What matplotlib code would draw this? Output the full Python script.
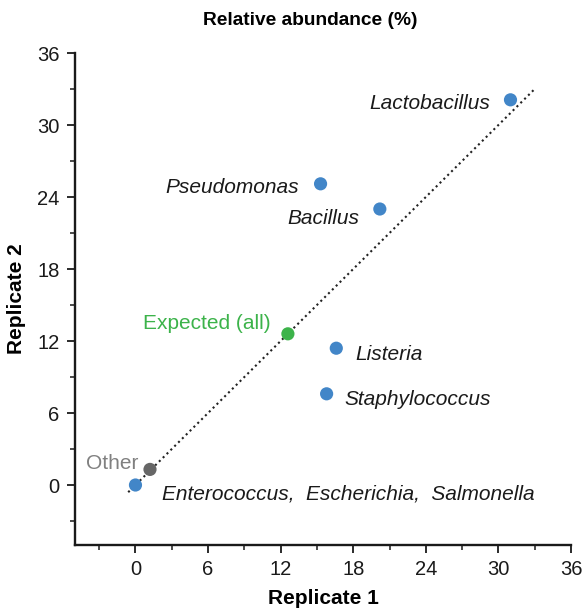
import numpy as np
import matplotlib.pyplot as plt
from matplotlib.ticker import MultipleLocator

plt.rcParams['font.family'] = ['Liberation Sans', 'DejaVu Sans']

# relative abundance (%) per genus, two replicates
names = ['Lactobacillus', 'Pseudomonas', 'Bacillus', 'Listeria', 'Staphylococcus',
         'Enterococcus,  Escherichia,  Salmonella']
rep1 = [31.0, 15.3, 20.2, 16.6, 15.8, 0.0]
rep2 = [32.1, 25.1, 23.0, 11.4, 7.6, 0.0]
expected = [12.6, 12.6]
other = [1.2, 1.3]

blue = '#4286c8'
green = '#3cb34a'
fs = 15

fig = plt.figure(figsize=(5.84, 6.15), dpi=100)
ax = fig.add_axes([0.1284, 0.1138, 0.8493, 0.80])

diag = np.array([-0.6, 32.9])
ax.plot(diag, diag, ls=(0, (1, 1.6)), color='#222222', lw=1.5, zorder=1)

ax.scatter(rep1, rep2, s=90, color=blue, edgecolor='none', zorder=3)
ax.scatter([expected[0]], [expected[1]], s=90, color=green, edgecolor='none', zorder=3)
ax.scatter([other[0]], [other[1]], s=90, color='#666666', edgecolor='none', zorder=3)

# label offsets in pixels
offs = [(-20, -4, 'right'), (-22, -4, 'right'), (-20, -9, 'right'),
        (19, -6, 'left'), (18, -6, 'left'), (27, -9, 'left')]
for n, x, y, (dx, dy, ha) in zip(names, rep1, rep2, offs):
    ax.annotate(n, (x, y), xytext=(dx, dy), textcoords='offset pixels',
                ha=ha, va='center', style='italic', fontsize=fs, color='#1a1a1a')
ax.annotate('Expected (all)', expected, xytext=(-17, 10), textcoords='offset pixels',
            ha='right', va='center', fontsize=fs, color=green)
ax.annotate('Other', other, xytext=(-12, 6), textcoords='offset pixels',
            ha='right', va='center', fontsize=fs, color='#808080')

ax.set_xlim(-5, 36)
ax.set_ylim(-5, 36)
ax.set_xticks(np.arange(0, 37, 6))
ax.set_yticks(np.arange(0, 37, 6))
ax.xaxis.set_minor_locator(MultipleLocator(3))
ax.yaxis.set_minor_locator(MultipleLocator(3))
ax.tick_params(which='major', direction='out', length=6, width=1.3, labelsize=14.5,
               colors='#1a1a1a', pad=5)
ax.tick_params(which='minor', direction='out', length=3.5, width=1.1, colors='#1a1a1a')

for s in ['top', 'right']:
    ax.spines[s].set_visible(False)
for s in ['left', 'bottom']:
    ax.spines[s].set_linewidth(1.7)
    ax.spines[s].set_color('#1a1a1a')

ax.set_xlabel('Replicate 1', fontsize=fs, fontweight='bold', labelpad=7)
ax.set_ylabel('Replicate 2', fontsize=fs, fontweight='bold', labelpad=8)
ax.set_title('Relative abundance (%)', fontsize=13.8, fontweight='bold', pad=20, x=0.474)

fig.savefig('out.png', dpi=100)
